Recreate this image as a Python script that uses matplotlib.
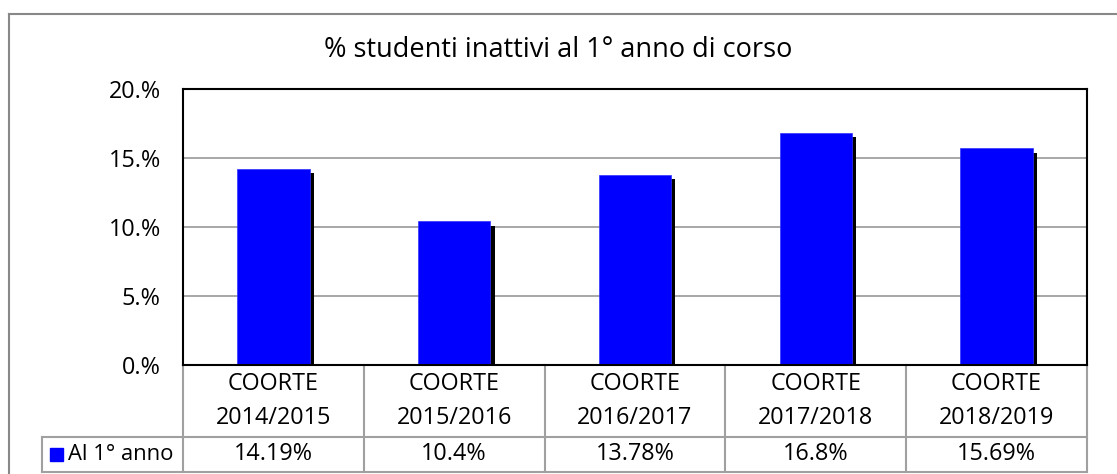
import matplotlib.pyplot as plt
import matplotlib.patheffects as pe
from matplotlib.transforms import blended_transform_factory
from matplotlib.lines import Line2D
from matplotlib.patches import Rectangle

plt.rcParams['font.family'] = ['Open Sans', 'DejaVu Sans']

# data
cohorts = ["COORTE\n2014/2015", "COORTE\n2015/2016", "COORTE\n2016/2017",
           "COORTE\n2017/2018", "COORTE\n2018/2019"]
values = [14.19, 10.4, 13.78, 16.8, 15.69]
value_labels = ["14.19%", "10.4%", "13.78%", "16.8%", "15.69%"]
series_name = "Al 1° anno"
yticks = [0, 5, 10, 15, 20]

W, H = 1117, 474
fig = plt.figure(figsize=(W / 100, H / 100), dpi=100)

# outer chart border (gray, top and left visible)
fig.add_artist(Line2D([9 / W, 1.0], [1 - 14 / H, 1 - 14 / H], color="#888888", lw=1.5))
fig.add_artist(Line2D([9 / W, 9 / W], [0, 1 - 14 / H], color="#888888", lw=1.5))

# plot area in pixels: x 183..1087, y 89..365
ax = fig.add_axes([183 / W, 1 - 365 / H, 904 / W, 276 / H])
x = list(range(len(values)))
bars = ax.bar(x, values, width=0.4, color="#0000ff", edgecolor="#3030ff", linewidth=0.5, zorder=3)
for b in bars:
    b.set_path_effects([pe.SimplePatchShadow(offset=(3, -3), shadow_rgbFace="black", alpha=1.0),
                        pe.Normal()])

fs = 16.8
ax.set_xlim(-0.5, len(values) - 0.5)
ax.set_ylim(0, 20)
ax.set_yticks(yticks)
ax.set_yticklabels([f"{v}.%" for v in yticks], fontsize=fs)
ax.tick_params(axis="y", length=0, pad=16)
ax.set_xticks([])
ax.yaxis.grid(True, color="#a0a0a0", lw=1.3, zorder=0)
for s in ax.spines.values():
    s.set_color("black")
    s.set_linewidth(1.5)
    s.set_zorder(5)

fig.text(0.5, 1 - 50 / H, "% studenti inattivi al 1° anno di corso", ha="center", va="center", fontsize=19.5)

# data table below the axis
tr = blended_transform_factory(ax.transData, ax.transAxes)
px = 1 / 276.0
y_head = -(437 - 365) * px
y_bot = -(472 - 365) * px
x_lab = -0.5 - (183 - 42) / 180.8
tc = "#a0a0a0"
for i in range(len(values) + 1):
    ax.add_line(Line2D([i - 0.5, i - 0.5], [0, y_bot], transform=tr, color=tc, lw=1.5, clip_on=False))
ax.add_line(Line2D([x_lab, len(values) - 0.5], [y_head, y_head], transform=tr, color=tc, lw=1.5, clip_on=False))
ax.add_line(Line2D([x_lab, len(values) - 0.5], [y_bot, y_bot], transform=tr, color=tc, lw=1.5, clip_on=False))
ax.add_line(Line2D([x_lab, x_lab], [y_head, y_bot], transform=tr, color=tc, lw=1.5, clip_on=False))

for i, (c, v) in enumerate(zip(cohorts, value_labels)):
    ax.text(i, y_head / 2, c, transform=tr, ha="center", va="center", fontsize=fs,
            linespacing=1.5, clip_on=False)
    ax.text(i, (y_head + y_bot) / 2, v, transform=tr, ha="center", va="center", fontsize=fs, clip_on=False)

# legend key in the row label cell
key_x = x_lab + 8 / 180.8
ax.add_patch(Rectangle((key_x, (y_head + y_bot) / 2 - 6.5 * px), 13 / 180.8, 13 * px, transform=tr,
                       color="#0000ff", clip_on=False))
ax.text(key_x + 18 / 180.8, (y_head + y_bot) / 2, series_name, transform=tr, ha="left", va="center",
        fontsize=15.8, clip_on=False)

fig.savefig("out.png", dpi=100)
